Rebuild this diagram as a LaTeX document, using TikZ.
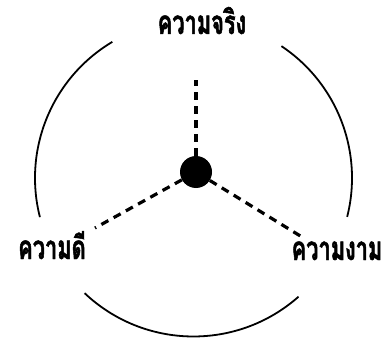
\documentclass[tikz,border=0pt]{standalone}
\usepackage{fontspec}
\newfontfamily\thaifont[Script=Thai, FakeStretch=0.66, FakeBold=1.5]{Loma}
\begin{document}
\begin{tikzpicture}[x=1pt,y=1pt,
  ring/.style={line width=1.8pt},
  spoke/.style={line width=3.2pt, dash pattern=on 8pt off 6pt},
  lbl/.style={font=\thaifont\bfseries\fontsize{33}{36}\selectfont, inner sep=0pt, anchor=base}]
\useasboundingbox (0,0) rectangle (391,338);
\coordinate (c) at (193.5,160);
\node[circle, fill=black, minimum size=32pt, inner sep=0pt] (dot) at (196,166) {};
\coordinate (t) at (196,258);
\coordinate (l) at (95,110);
\coordinate (r) at (302,101);
\draw[spoke] (dot) -- (t);
\draw[spoke] (dot) -- (l);
\draw[spoke] (dot) -- (r);
\draw[ring] ([shift={(56.3:158.5)}]c) arc[start angle=56.3, end angle=-14.2, radius=158.5];
\draw[ring] ([shift={(120.8:158.5)}]c) arc[start angle=120.8, end angle=194.3, radius=158.5];
\draw[ring] ([shift={(226.6:158.5)}]c) arc[start angle=226.6, end angle=311.5, radius=158.5];
\node[lbl] (truth) at (202,304) {ความจริง};
\node[lbl] (good) at (52,79) {ความดี};
\node[lbl] (beauty) at (337,78) {ความงาม};
\end{tikzpicture}
\end{document}
